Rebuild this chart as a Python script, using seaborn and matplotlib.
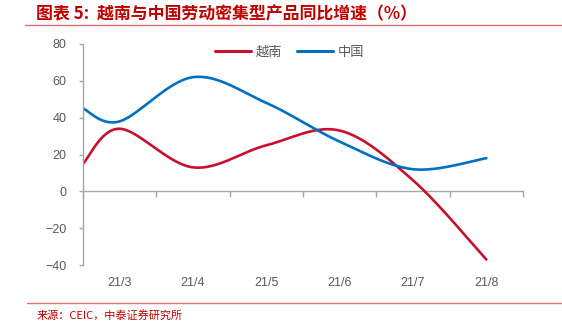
import numpy as np
import pandas as pd
import matplotlib
matplotlib.use("Agg")
import matplotlib.pyplot as plt
import seaborn as sns

# ---- data ----
months = ["21/3", "21/4", "21/5", "21/6", "21/7", "21/8"]
x_pos = [-0.5, 0, 1, 2, 3, 4, 5]
vietnam = [15, 34, 13, 25, 33, 6, -37]
china = [45, 38, 62, 48, 27, 12, 18]
series_names = ["越南", "中国"]
colors = ["#C8102E", "#0070C0"]


def smooth(xs, ys, n=40):
    """Excel-like Bezier smoothing through the given points."""
    P = np.column_stack([xs, ys]).astype(float)
    out = []
    m = len(P)
    for i in range(m - 1):
        p0 = P[max(i - 1, 0)]
        p1 = P[i]
        p2 = P[i + 1]
        p3 = P[min(i + 2, m - 1)]
        c1 = p1 + (p2 - p0) / 6.0
        c2 = p2 - (p3 - p1) / 6.0
        t = np.linspace(0, 1, n, endpoint=(i == m - 2))[:, None]
        seg = ((1 - t) ** 3) * p1 + 3 * ((1 - t) ** 2) * t * c1 + 3 * (1 - t) * t ** 2 * c2 + t ** 3 * p2
        out.append(seg)
    return np.vstack(out)


frames = []
for name, vals in zip(series_names, [vietnam, china]):
    s = smooth(x_pos, vals)
    frames.append(pd.DataFrame({"x": s[:, 0], "y": s[:, 1], "series": name, "order": np.arange(len(s))}))
df = pd.concat(frames, ignore_index=True)

sns.set_style("white")
plt.rcParams["font.family"] = ["Liberation Sans", "Noto Sans CJK SC", "DejaVu Sans"]

fig = plt.figure(figsize=(5.62, 3.26), dpi=100)
ax = fig.add_axes([83 / 562, 1 - 265 / 326, 440 / 562, 221 / 326])

sns.lineplot(data=df, x="x", y="y", hue="series", palette=colors, hue_order=series_names,
             sort=False, estimator=None, units="series", linewidth=1.9, ax=ax, legend=True)

grey = "#A6A6A6"
txt = "#595959"
ax.set_xlim(-0.5, 5.5)
ax.set_ylim(-40, 80)
ax.set_yticks(np.arange(-40, 81, 20))
ax.set_xticks(range(len(months)))
ax.set_xticklabels(months)
ax.set_xlabel("")
ax.set_ylabel("")

for side in ["top", "right", "bottom"]:
    ax.spines[side].set_visible(False)
ax.spines["left"].set_color(grey)
ax.spines["left"].set_linewidth(1.0)
ax.tick_params(axis="y", length=3, width=1.0, color=grey, labelcolor=txt, labelsize=9, pad=9, direction="out", left=True)
ax.tick_params(axis="x", length=0, labelcolor=txt, labelsize=9, pad=9)

# zero axis line with tick marks at category boundaries
sec = ax.secondary_xaxis(40 / 120)
sec.set_xticks(np.arange(-0.5, 5.51, 1.0))
sec.set_xticklabels([])
sec.tick_params(axis="x", length=4, width=1.0, color=grey, direction="out")
sec.spines["bottom"].set_color(grey)
sec.spines["bottom"].set_linewidth(1.0)
for side in ["top", "left", "right"]:
    if side in sec.spines:
        sec.spines[side].set_visible(False)

leg = ax.legend(loc="upper center", bbox_to_anchor=(0.47, 1.045), ncol=2, frameon=False,
                handlelength=2.7, columnspacing=1.1, handletextpad=0.4,
                prop={"family": ["Noto Sans CJK SC"], "size": 9.5})
for t in leg.get_texts():
    t.set_color(txt)
for line in leg.get_lines():
    line.set_linewidth(2.2)

# title
fig.text(36 / 562, 1 - 14 / 326, "图表 5:  越南与中国劳动密集型产品同比增速（%）", color="#C00000",
         fontsize=12.2, fontweight="bold", style="italic", va="center", ha="left",
         family=["Noto Sans CJK SC", "DejaVu Sans"])
fig.add_artist(plt.Line2D([25 / 562, 1.0], [1 - 24.5 / 326] * 2, color="#E07070", linewidth=1.0,
                          transform=fig.transFigure))
fig.add_artist(plt.Line2D([27 / 562, 1.0], [1 - 302.5 / 326] * 2, color="#E07070", linewidth=1.0,
                          transform=fig.transFigure))
fig.text(37 / 562, 1 - 315 / 326, "来源：CEIC，中泰证券研究所", color="#C00000", fontsize=8,
         va="center", ha="left", family=["Noto Sans CJK SC", "DejaVu Sans"])

fig.savefig("out.png", dpi=100)
